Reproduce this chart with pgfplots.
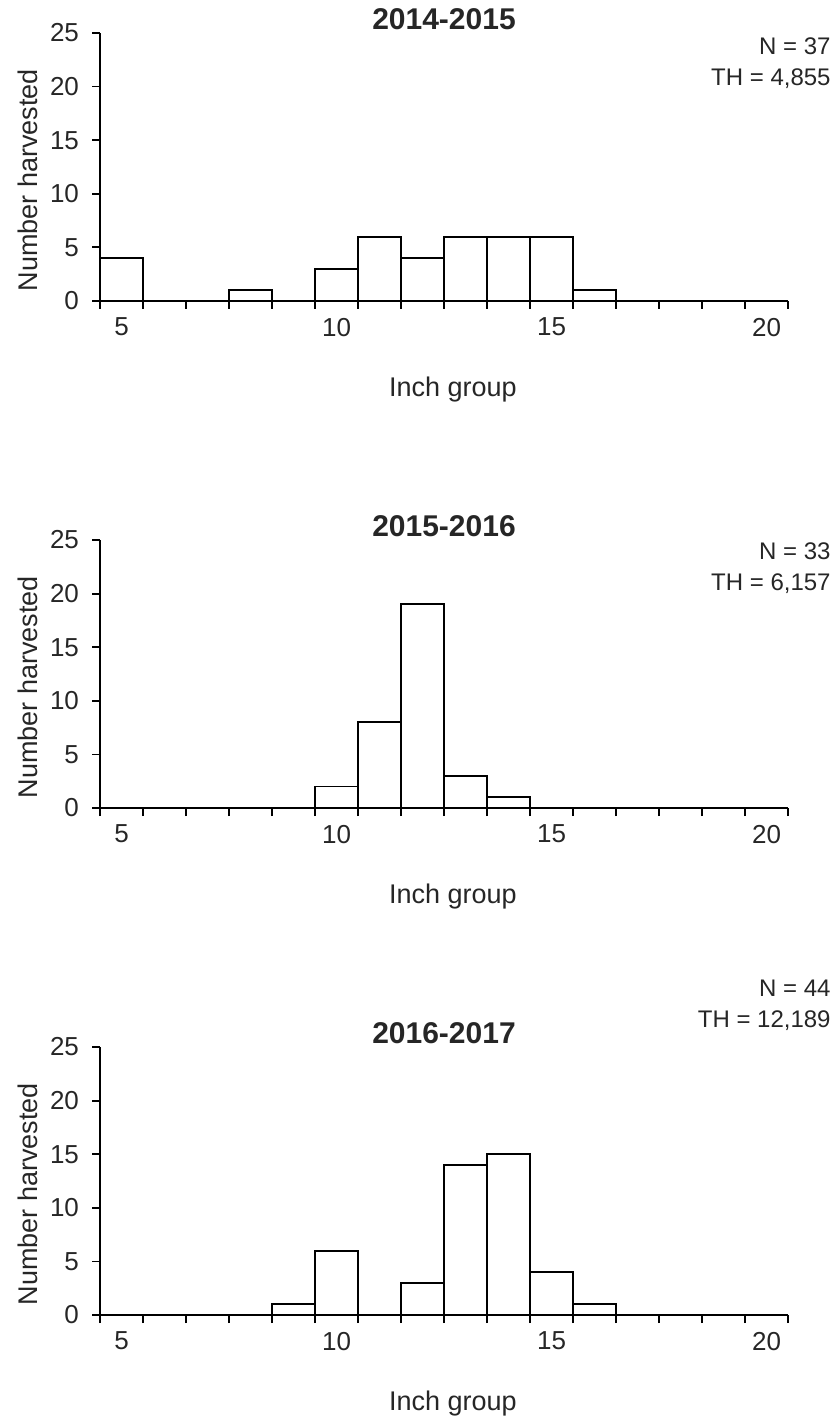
\documentclass[border=0pt]{standalone}
\usepackage{fontspec}
\setmainfont{Liberation Sans}
\usepackage{pgfplots}
\pgfplotsset{compat=1.18}

% Common look of the three harvest histograms
\pgfplotsset{
  harvest/.style={
    scale only axis,
    width=344pt, height=134pt,
    xmin=4.5, xmax=20.5,
    ymin=0, ymax=25,
    axis x line*=bottom, axis y line*=left,
    axis line style={line width=0.9pt, black},
    every tick/.style={line width=0.9pt, black},
    tick align=outside,
    major tick length=4pt,
    xtick={4.5,5.5,...,20.5}, xticklabels={},
    extra x ticks={5,10,15,20},
    extra x tick labels={5,10,15,20},
    extra x tick style={major tick length=0pt},
    ytick={0,5,...,25},
    /pgf/number format/assume math mode=true,
    tick label style={font=\fontsize{13}{15}\selectfont, text=black!85},
    xticklabel style={yshift=-5pt},
    yticklabel style={xshift=-3pt},
    label style={font=\fontsize{13.5}{16}\selectfont, text=black!85},
    ylabel={Number harvested},
    xlabel={Inch group},
    ylabel style={at={(axis description cs:-0.105,0.45)}, anchor=center, rotate=0},
    xlabel style={at={(axis description cs:0.513,-0.33)}, anchor=center},
    clip=false,
  },
  hbars/.style={ybar, bar width=1, bar shift=0pt, fill=white, draw=black, line width=0.9pt},
}
\tikzset{
  stats/.style={anchor=north east, align=right, font=\fontsize{12}{15.5}\selectfont,
    text=black!85, inner sep=0pt},
}

\newcommand{\paneltitle}[1]{%
  \node[font=\fontsize{15}{17}\bfseries\selectfont, text=black!85, anchor=center]
    at (axis description cs:0.5,1.05) {#1};}

\begin{document}
\begin{tikzpicture}
\path[use as bounding box] (0pt,0pt) rectangle (417.5pt,-711pt);

% 2014-2015
\begin{axis}[harvest, at={(50pt,-150.5pt)}, anchor=south west]
\addplot[hbars] coordinates {(5,4) (8,1) (10,3) (11,6) (12,4) (13,6) (14,6) (15,6) (16,1)};
\paneltitle{2014-2015}
\node[stats] at (axis description cs:1.0625,0.984) {N = 37\\TH = 4,855};
\end{axis}

% 2015-2016
\begin{axis}[harvest, at={(50pt,-404pt)}, anchor=south west]
\addplot[hbars] coordinates {(10,2) (11,8) (12,19) (13,3) (14,1)};
\paneltitle{2015-2016}
\node[stats] at (axis description cs:1.0625,0.9925) {N = 33\\TH = 6,157};
\end{axis}

% 2016-2017
\begin{axis}[harvest, at={(50pt,-657.5pt)}, anchor=south west]
\addplot[hbars] coordinates {(9,1) (10,6) (12,3) (13,14) (14,15) (15,4) (16,1)};
\paneltitle{2016-2017}
\node[stats] at (axis description cs:1.0625,1.251) {N = 44\\TH = 12,189};
\end{axis}
\end{tikzpicture}
\end{document}
